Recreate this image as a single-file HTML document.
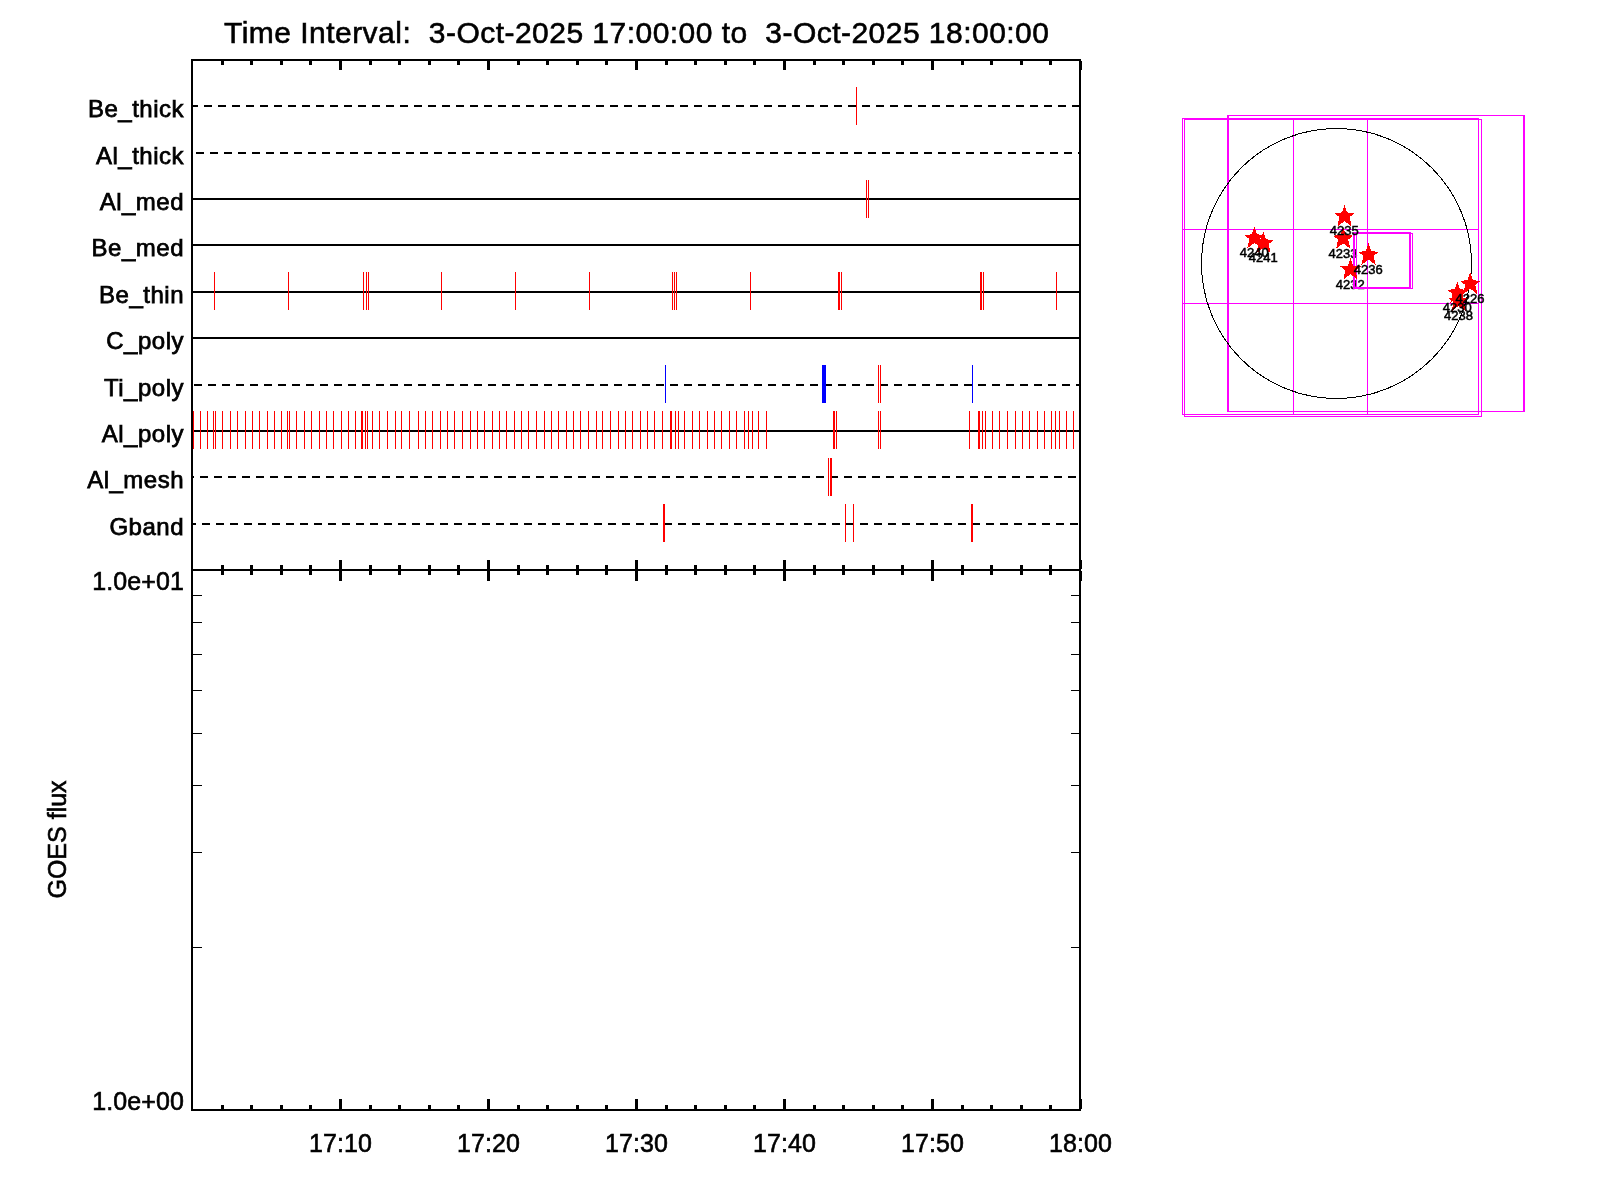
<!DOCTYPE html>
<html><head><meta charset="utf-8"><style>html,body{margin:0;padding:0;background:#fff;}svg{display:block;will-change:transform}</style></head>
<body><svg width="1600" height="1200" viewBox="0 0 1600 1200">
<rect width="1600" height="1200" fill="#fff"/>
<g shape-rendering="crispEdges">
<rect x="191" y="59" width="890" height="2" fill="#000"/>
<rect x="191" y="569" width="890" height="2" fill="#000"/>
<rect x="191" y="1109" width="890" height="2" fill="#000"/>
<rect x="191" y="59" width="2" height="1052" fill="#000"/>
<rect x="1079" y="59" width="2" height="1052" fill="#000"/>
<rect x="221" y="61" width="3" height="4" fill="#000"/>
<rect x="221" y="565" width="3" height="4" fill="#000"/>
<rect x="221" y="571" width="3" height="4" fill="#000"/>
<rect x="221" y="1105" width="3" height="4" fill="#000"/>
<rect x="250" y="61" width="3" height="4" fill="#000"/>
<rect x="250" y="565" width="3" height="4" fill="#000"/>
<rect x="250" y="571" width="3" height="4" fill="#000"/>
<rect x="250" y="1105" width="3" height="4" fill="#000"/>
<rect x="280" y="61" width="3" height="4" fill="#000"/>
<rect x="280" y="565" width="3" height="4" fill="#000"/>
<rect x="280" y="571" width="3" height="4" fill="#000"/>
<rect x="280" y="1105" width="3" height="4" fill="#000"/>
<rect x="309" y="61" width="3" height="4" fill="#000"/>
<rect x="309" y="565" width="3" height="4" fill="#000"/>
<rect x="309" y="571" width="3" height="4" fill="#000"/>
<rect x="309" y="1105" width="3" height="4" fill="#000"/>
<rect x="339" y="61" width="3" height="9" fill="#000"/>
<rect x="339" y="560" width="3" height="9" fill="#000"/>
<rect x="339" y="571" width="3" height="10" fill="#000"/>
<rect x="339" y="1099" width="3" height="10" fill="#000"/>
<rect x="369" y="61" width="3" height="4" fill="#000"/>
<rect x="369" y="565" width="3" height="4" fill="#000"/>
<rect x="369" y="571" width="3" height="4" fill="#000"/>
<rect x="369" y="1105" width="3" height="4" fill="#000"/>
<rect x="398" y="61" width="3" height="4" fill="#000"/>
<rect x="398" y="565" width="3" height="4" fill="#000"/>
<rect x="398" y="571" width="3" height="4" fill="#000"/>
<rect x="398" y="1105" width="3" height="4" fill="#000"/>
<rect x="428" y="61" width="3" height="4" fill="#000"/>
<rect x="428" y="565" width="3" height="4" fill="#000"/>
<rect x="428" y="571" width="3" height="4" fill="#000"/>
<rect x="428" y="1105" width="3" height="4" fill="#000"/>
<rect x="457" y="61" width="3" height="4" fill="#000"/>
<rect x="457" y="565" width="3" height="4" fill="#000"/>
<rect x="457" y="571" width="3" height="4" fill="#000"/>
<rect x="457" y="1105" width="3" height="4" fill="#000"/>
<rect x="487" y="61" width="3" height="9" fill="#000"/>
<rect x="487" y="560" width="3" height="9" fill="#000"/>
<rect x="487" y="571" width="3" height="10" fill="#000"/>
<rect x="487" y="1099" width="3" height="10" fill="#000"/>
<rect x="517" y="61" width="3" height="4" fill="#000"/>
<rect x="517" y="565" width="3" height="4" fill="#000"/>
<rect x="517" y="571" width="3" height="4" fill="#000"/>
<rect x="517" y="1105" width="3" height="4" fill="#000"/>
<rect x="546" y="61" width="3" height="4" fill="#000"/>
<rect x="546" y="565" width="3" height="4" fill="#000"/>
<rect x="546" y="571" width="3" height="4" fill="#000"/>
<rect x="546" y="1105" width="3" height="4" fill="#000"/>
<rect x="576" y="61" width="3" height="4" fill="#000"/>
<rect x="576" y="565" width="3" height="4" fill="#000"/>
<rect x="576" y="571" width="3" height="4" fill="#000"/>
<rect x="576" y="1105" width="3" height="4" fill="#000"/>
<rect x="605" y="61" width="3" height="4" fill="#000"/>
<rect x="605" y="565" width="3" height="4" fill="#000"/>
<rect x="605" y="571" width="3" height="4" fill="#000"/>
<rect x="605" y="1105" width="3" height="4" fill="#000"/>
<rect x="635" y="61" width="3" height="9" fill="#000"/>
<rect x="635" y="560" width="3" height="9" fill="#000"/>
<rect x="635" y="571" width="3" height="10" fill="#000"/>
<rect x="635" y="1099" width="3" height="10" fill="#000"/>
<rect x="665" y="61" width="3" height="4" fill="#000"/>
<rect x="665" y="565" width="3" height="4" fill="#000"/>
<rect x="665" y="571" width="3" height="4" fill="#000"/>
<rect x="665" y="1105" width="3" height="4" fill="#000"/>
<rect x="694" y="61" width="3" height="4" fill="#000"/>
<rect x="694" y="565" width="3" height="4" fill="#000"/>
<rect x="694" y="571" width="3" height="4" fill="#000"/>
<rect x="694" y="1105" width="3" height="4" fill="#000"/>
<rect x="724" y="61" width="3" height="4" fill="#000"/>
<rect x="724" y="565" width="3" height="4" fill="#000"/>
<rect x="724" y="571" width="3" height="4" fill="#000"/>
<rect x="724" y="1105" width="3" height="4" fill="#000"/>
<rect x="753" y="61" width="3" height="4" fill="#000"/>
<rect x="753" y="565" width="3" height="4" fill="#000"/>
<rect x="753" y="571" width="3" height="4" fill="#000"/>
<rect x="753" y="1105" width="3" height="4" fill="#000"/>
<rect x="783" y="61" width="3" height="9" fill="#000"/>
<rect x="783" y="560" width="3" height="9" fill="#000"/>
<rect x="783" y="571" width="3" height="10" fill="#000"/>
<rect x="783" y="1099" width="3" height="10" fill="#000"/>
<rect x="813" y="61" width="3" height="4" fill="#000"/>
<rect x="813" y="565" width="3" height="4" fill="#000"/>
<rect x="813" y="571" width="3" height="4" fill="#000"/>
<rect x="813" y="1105" width="3" height="4" fill="#000"/>
<rect x="842" y="61" width="3" height="4" fill="#000"/>
<rect x="842" y="565" width="3" height="4" fill="#000"/>
<rect x="842" y="571" width="3" height="4" fill="#000"/>
<rect x="842" y="1105" width="3" height="4" fill="#000"/>
<rect x="872" y="61" width="3" height="4" fill="#000"/>
<rect x="872" y="565" width="3" height="4" fill="#000"/>
<rect x="872" y="571" width="3" height="4" fill="#000"/>
<rect x="872" y="1105" width="3" height="4" fill="#000"/>
<rect x="901" y="61" width="3" height="4" fill="#000"/>
<rect x="901" y="565" width="3" height="4" fill="#000"/>
<rect x="901" y="571" width="3" height="4" fill="#000"/>
<rect x="901" y="1105" width="3" height="4" fill="#000"/>
<rect x="931" y="61" width="3" height="9" fill="#000"/>
<rect x="931" y="560" width="3" height="9" fill="#000"/>
<rect x="931" y="571" width="3" height="10" fill="#000"/>
<rect x="931" y="1099" width="3" height="10" fill="#000"/>
<rect x="961" y="61" width="3" height="4" fill="#000"/>
<rect x="961" y="565" width="3" height="4" fill="#000"/>
<rect x="961" y="571" width="3" height="4" fill="#000"/>
<rect x="961" y="1105" width="3" height="4" fill="#000"/>
<rect x="990" y="61" width="3" height="4" fill="#000"/>
<rect x="990" y="565" width="3" height="4" fill="#000"/>
<rect x="990" y="571" width="3" height="4" fill="#000"/>
<rect x="990" y="1105" width="3" height="4" fill="#000"/>
<rect x="1020" y="61" width="3" height="4" fill="#000"/>
<rect x="1020" y="565" width="3" height="4" fill="#000"/>
<rect x="1020" y="571" width="3" height="4" fill="#000"/>
<rect x="1020" y="1105" width="3" height="4" fill="#000"/>
<rect x="1049" y="61" width="3" height="4" fill="#000"/>
<rect x="1049" y="565" width="3" height="4" fill="#000"/>
<rect x="1049" y="571" width="3" height="4" fill="#000"/>
<rect x="1049" y="1105" width="3" height="4" fill="#000"/>
<rect x="1079" y="61" width="3" height="9" fill="#000"/>
<rect x="1079" y="560" width="3" height="9" fill="#000"/>
<rect x="1079" y="571" width="3" height="10" fill="#000"/>
<rect x="1079" y="1099" width="3" height="10" fill="#000"/>
<rect x="193" y="947" width="9" height="1" fill="#000"/>
<rect x="1071" y="947" width="8" height="1" fill="#000"/>
<rect x="193" y="852" width="9" height="1" fill="#000"/>
<rect x="1071" y="852" width="8" height="1" fill="#000"/>
<rect x="193" y="785" width="9" height="1" fill="#000"/>
<rect x="1071" y="785" width="8" height="1" fill="#000"/>
<rect x="193" y="733" width="9" height="1" fill="#000"/>
<rect x="1071" y="733" width="8" height="1" fill="#000"/>
<rect x="193" y="690" width="9" height="1" fill="#000"/>
<rect x="1071" y="690" width="8" height="1" fill="#000"/>
<rect x="193" y="654" width="9" height="1" fill="#000"/>
<rect x="1071" y="654" width="8" height="1" fill="#000"/>
<rect x="193" y="622" width="9" height="1" fill="#000"/>
<rect x="1071" y="622" width="8" height="1" fill="#000"/>
<rect x="193" y="595" width="9" height="1" fill="#000"/>
<rect x="1071" y="595" width="8" height="1" fill="#000"/>
<rect x="193" y="105" width="5" height="2" fill="#000"/>
<rect x="204" y="105" width="8" height="2" fill="#000"/>
<rect x="218" y="105" width="8" height="2" fill="#000"/>
<rect x="232" y="105" width="8" height="2" fill="#000"/>
<rect x="246" y="105" width="8" height="2" fill="#000"/>
<rect x="260" y="105" width="8" height="2" fill="#000"/>
<rect x="274" y="105" width="8" height="2" fill="#000"/>
<rect x="288" y="105" width="8" height="2" fill="#000"/>
<rect x="302" y="105" width="8" height="2" fill="#000"/>
<rect x="316" y="105" width="8" height="2" fill="#000"/>
<rect x="330" y="105" width="8" height="2" fill="#000"/>
<rect x="344" y="105" width="8" height="2" fill="#000"/>
<rect x="358" y="105" width="8" height="2" fill="#000"/>
<rect x="372" y="105" width="8" height="2" fill="#000"/>
<rect x="386" y="105" width="8" height="2" fill="#000"/>
<rect x="400" y="105" width="8" height="2" fill="#000"/>
<rect x="414" y="105" width="8" height="2" fill="#000"/>
<rect x="428" y="105" width="8" height="2" fill="#000"/>
<rect x="442" y="105" width="8" height="2" fill="#000"/>
<rect x="456" y="105" width="8" height="2" fill="#000"/>
<rect x="470" y="105" width="8" height="2" fill="#000"/>
<rect x="484" y="105" width="8" height="2" fill="#000"/>
<rect x="498" y="105" width="8" height="2" fill="#000"/>
<rect x="512" y="105" width="8" height="2" fill="#000"/>
<rect x="526" y="105" width="8" height="2" fill="#000"/>
<rect x="540" y="105" width="8" height="2" fill="#000"/>
<rect x="554" y="105" width="8" height="2" fill="#000"/>
<rect x="568" y="105" width="8" height="2" fill="#000"/>
<rect x="582" y="105" width="8" height="2" fill="#000"/>
<rect x="596" y="105" width="8" height="2" fill="#000"/>
<rect x="610" y="105" width="8" height="2" fill="#000"/>
<rect x="624" y="105" width="8" height="2" fill="#000"/>
<rect x="638" y="105" width="8" height="2" fill="#000"/>
<rect x="652" y="105" width="8" height="2" fill="#000"/>
<rect x="666" y="105" width="8" height="2" fill="#000"/>
<rect x="680" y="105" width="8" height="2" fill="#000"/>
<rect x="694" y="105" width="8" height="2" fill="#000"/>
<rect x="708" y="105" width="8" height="2" fill="#000"/>
<rect x="722" y="105" width="8" height="2" fill="#000"/>
<rect x="736" y="105" width="8" height="2" fill="#000"/>
<rect x="750" y="105" width="8" height="2" fill="#000"/>
<rect x="764" y="105" width="8" height="2" fill="#000"/>
<rect x="778" y="105" width="8" height="2" fill="#000"/>
<rect x="792" y="105" width="8" height="2" fill="#000"/>
<rect x="806" y="105" width="8" height="2" fill="#000"/>
<rect x="820" y="105" width="8" height="2" fill="#000"/>
<rect x="834" y="105" width="8" height="2" fill="#000"/>
<rect x="848" y="105" width="8" height="2" fill="#000"/>
<rect x="862" y="105" width="8" height="2" fill="#000"/>
<rect x="876" y="105" width="8" height="2" fill="#000"/>
<rect x="890" y="105" width="8" height="2" fill="#000"/>
<rect x="904" y="105" width="8" height="2" fill="#000"/>
<rect x="918" y="105" width="8" height="2" fill="#000"/>
<rect x="932" y="105" width="8" height="2" fill="#000"/>
<rect x="946" y="105" width="8" height="2" fill="#000"/>
<rect x="960" y="105" width="8" height="2" fill="#000"/>
<rect x="974" y="105" width="8" height="2" fill="#000"/>
<rect x="988" y="105" width="8" height="2" fill="#000"/>
<rect x="1002" y="105" width="8" height="2" fill="#000"/>
<rect x="1016" y="105" width="8" height="2" fill="#000"/>
<rect x="1030" y="105" width="8" height="2" fill="#000"/>
<rect x="1044" y="105" width="8" height="2" fill="#000"/>
<rect x="1058" y="105" width="8" height="2" fill="#000"/>
<rect x="1072" y="105" width="7" height="2" fill="#000"/>
<text x="184" y="117" text-anchor="end" font-family="Liberation Sans, sans-serif" font-size="24" stroke="#000" stroke-width="0.75" letter-spacing="0.5">Be_thick</text>
<rect x="196" y="152" width="8" height="2" fill="#000"/>
<rect x="210" y="152" width="8" height="2" fill="#000"/>
<rect x="224" y="152" width="8" height="2" fill="#000"/>
<rect x="238" y="152" width="8" height="2" fill="#000"/>
<rect x="252" y="152" width="8" height="2" fill="#000"/>
<rect x="266" y="152" width="8" height="2" fill="#000"/>
<rect x="280" y="152" width="8" height="2" fill="#000"/>
<rect x="294" y="152" width="8" height="2" fill="#000"/>
<rect x="308" y="152" width="8" height="2" fill="#000"/>
<rect x="322" y="152" width="8" height="2" fill="#000"/>
<rect x="336" y="152" width="8" height="2" fill="#000"/>
<rect x="350" y="152" width="8" height="2" fill="#000"/>
<rect x="364" y="152" width="8" height="2" fill="#000"/>
<rect x="378" y="152" width="8" height="2" fill="#000"/>
<rect x="392" y="152" width="8" height="2" fill="#000"/>
<rect x="406" y="152" width="8" height="2" fill="#000"/>
<rect x="420" y="152" width="8" height="2" fill="#000"/>
<rect x="434" y="152" width="8" height="2" fill="#000"/>
<rect x="448" y="152" width="8" height="2" fill="#000"/>
<rect x="462" y="152" width="8" height="2" fill="#000"/>
<rect x="476" y="152" width="8" height="2" fill="#000"/>
<rect x="490" y="152" width="8" height="2" fill="#000"/>
<rect x="504" y="152" width="8" height="2" fill="#000"/>
<rect x="518" y="152" width="8" height="2" fill="#000"/>
<rect x="532" y="152" width="8" height="2" fill="#000"/>
<rect x="546" y="152" width="8" height="2" fill="#000"/>
<rect x="560" y="152" width="8" height="2" fill="#000"/>
<rect x="574" y="152" width="8" height="2" fill="#000"/>
<rect x="588" y="152" width="8" height="2" fill="#000"/>
<rect x="602" y="152" width="8" height="2" fill="#000"/>
<rect x="616" y="152" width="8" height="2" fill="#000"/>
<rect x="630" y="152" width="8" height="2" fill="#000"/>
<rect x="644" y="152" width="8" height="2" fill="#000"/>
<rect x="658" y="152" width="8" height="2" fill="#000"/>
<rect x="672" y="152" width="8" height="2" fill="#000"/>
<rect x="686" y="152" width="8" height="2" fill="#000"/>
<rect x="700" y="152" width="8" height="2" fill="#000"/>
<rect x="714" y="152" width="8" height="2" fill="#000"/>
<rect x="728" y="152" width="8" height="2" fill="#000"/>
<rect x="742" y="152" width="8" height="2" fill="#000"/>
<rect x="756" y="152" width="8" height="2" fill="#000"/>
<rect x="770" y="152" width="8" height="2" fill="#000"/>
<rect x="784" y="152" width="8" height="2" fill="#000"/>
<rect x="798" y="152" width="8" height="2" fill="#000"/>
<rect x="812" y="152" width="8" height="2" fill="#000"/>
<rect x="826" y="152" width="8" height="2" fill="#000"/>
<rect x="840" y="152" width="8" height="2" fill="#000"/>
<rect x="854" y="152" width="8" height="2" fill="#000"/>
<rect x="868" y="152" width="8" height="2" fill="#000"/>
<rect x="882" y="152" width="8" height="2" fill="#000"/>
<rect x="896" y="152" width="8" height="2" fill="#000"/>
<rect x="910" y="152" width="8" height="2" fill="#000"/>
<rect x="924" y="152" width="8" height="2" fill="#000"/>
<rect x="938" y="152" width="8" height="2" fill="#000"/>
<rect x="952" y="152" width="8" height="2" fill="#000"/>
<rect x="966" y="152" width="8" height="2" fill="#000"/>
<rect x="980" y="152" width="8" height="2" fill="#000"/>
<rect x="994" y="152" width="8" height="2" fill="#000"/>
<rect x="1008" y="152" width="8" height="2" fill="#000"/>
<rect x="1022" y="152" width="8" height="2" fill="#000"/>
<rect x="1036" y="152" width="8" height="2" fill="#000"/>
<rect x="1050" y="152" width="8" height="2" fill="#000"/>
<rect x="1064" y="152" width="8" height="2" fill="#000"/>
<rect x="1078" y="152" width="1" height="2" fill="#000"/>
<text x="184" y="164" text-anchor="end" font-family="Liberation Sans, sans-serif" font-size="24" stroke="#000" stroke-width="0.75" letter-spacing="0.5">Al_thick</text>
<rect x="193" y="198" width="886" height="2" fill="#000"/>
<text x="184" y="210" text-anchor="end" font-family="Liberation Sans, sans-serif" font-size="24" stroke="#000" stroke-width="0.75" letter-spacing="0.5">Al_med</text>
<rect x="193" y="244" width="886" height="2" fill="#000"/>
<text x="184" y="256" text-anchor="end" font-family="Liberation Sans, sans-serif" font-size="24" stroke="#000" stroke-width="0.75" letter-spacing="0.5">Be_med</text>
<rect x="193" y="291" width="886" height="2" fill="#000"/>
<text x="184" y="303" text-anchor="end" font-family="Liberation Sans, sans-serif" font-size="24" stroke="#000" stroke-width="0.75" letter-spacing="0.5">Be_thin</text>
<rect x="193" y="337" width="886" height="2" fill="#000"/>
<text x="184" y="349" text-anchor="end" font-family="Liberation Sans, sans-serif" font-size="24" stroke="#000" stroke-width="0.75" letter-spacing="0.5">C_poly</text>
<rect x="194" y="384" width="8" height="2" fill="#000"/>
<rect x="208" y="384" width="8" height="2" fill="#000"/>
<rect x="222" y="384" width="8" height="2" fill="#000"/>
<rect x="236" y="384" width="8" height="2" fill="#000"/>
<rect x="250" y="384" width="8" height="2" fill="#000"/>
<rect x="264" y="384" width="8" height="2" fill="#000"/>
<rect x="278" y="384" width="8" height="2" fill="#000"/>
<rect x="292" y="384" width="8" height="2" fill="#000"/>
<rect x="306" y="384" width="8" height="2" fill="#000"/>
<rect x="320" y="384" width="8" height="2" fill="#000"/>
<rect x="334" y="384" width="8" height="2" fill="#000"/>
<rect x="348" y="384" width="8" height="2" fill="#000"/>
<rect x="362" y="384" width="8" height="2" fill="#000"/>
<rect x="376" y="384" width="8" height="2" fill="#000"/>
<rect x="390" y="384" width="8" height="2" fill="#000"/>
<rect x="404" y="384" width="8" height="2" fill="#000"/>
<rect x="418" y="384" width="8" height="2" fill="#000"/>
<rect x="432" y="384" width="8" height="2" fill="#000"/>
<rect x="446" y="384" width="8" height="2" fill="#000"/>
<rect x="460" y="384" width="8" height="2" fill="#000"/>
<rect x="474" y="384" width="8" height="2" fill="#000"/>
<rect x="488" y="384" width="8" height="2" fill="#000"/>
<rect x="502" y="384" width="8" height="2" fill="#000"/>
<rect x="516" y="384" width="8" height="2" fill="#000"/>
<rect x="530" y="384" width="8" height="2" fill="#000"/>
<rect x="544" y="384" width="8" height="2" fill="#000"/>
<rect x="558" y="384" width="8" height="2" fill="#000"/>
<rect x="572" y="384" width="8" height="2" fill="#000"/>
<rect x="586" y="384" width="8" height="2" fill="#000"/>
<rect x="600" y="384" width="8" height="2" fill="#000"/>
<rect x="614" y="384" width="8" height="2" fill="#000"/>
<rect x="628" y="384" width="8" height="2" fill="#000"/>
<rect x="642" y="384" width="8" height="2" fill="#000"/>
<rect x="656" y="384" width="8" height="2" fill="#000"/>
<rect x="670" y="384" width="8" height="2" fill="#000"/>
<rect x="684" y="384" width="8" height="2" fill="#000"/>
<rect x="698" y="384" width="8" height="2" fill="#000"/>
<rect x="712" y="384" width="8" height="2" fill="#000"/>
<rect x="726" y="384" width="8" height="2" fill="#000"/>
<rect x="740" y="384" width="8" height="2" fill="#000"/>
<rect x="754" y="384" width="8" height="2" fill="#000"/>
<rect x="768" y="384" width="8" height="2" fill="#000"/>
<rect x="782" y="384" width="8" height="2" fill="#000"/>
<rect x="796" y="384" width="8" height="2" fill="#000"/>
<rect x="810" y="384" width="8" height="2" fill="#000"/>
<rect x="824" y="384" width="8" height="2" fill="#000"/>
<rect x="838" y="384" width="8" height="2" fill="#000"/>
<rect x="852" y="384" width="8" height="2" fill="#000"/>
<rect x="866" y="384" width="8" height="2" fill="#000"/>
<rect x="880" y="384" width="8" height="2" fill="#000"/>
<rect x="894" y="384" width="8" height="2" fill="#000"/>
<rect x="908" y="384" width="8" height="2" fill="#000"/>
<rect x="922" y="384" width="8" height="2" fill="#000"/>
<rect x="936" y="384" width="8" height="2" fill="#000"/>
<rect x="950" y="384" width="8" height="2" fill="#000"/>
<rect x="964" y="384" width="8" height="2" fill="#000"/>
<rect x="978" y="384" width="8" height="2" fill="#000"/>
<rect x="992" y="384" width="8" height="2" fill="#000"/>
<rect x="1006" y="384" width="8" height="2" fill="#000"/>
<rect x="1020" y="384" width="8" height="2" fill="#000"/>
<rect x="1034" y="384" width="8" height="2" fill="#000"/>
<rect x="1048" y="384" width="8" height="2" fill="#000"/>
<rect x="1062" y="384" width="8" height="2" fill="#000"/>
<rect x="1076" y="384" width="3" height="2" fill="#000"/>
<text x="184" y="396" text-anchor="end" font-family="Liberation Sans, sans-serif" font-size="24" stroke="#000" stroke-width="0.75" letter-spacing="0.5">Ti_poly</text>
<rect x="193" y="430" width="886" height="2" fill="#000"/>
<text x="184" y="442" text-anchor="end" font-family="Liberation Sans, sans-serif" font-size="24" stroke="#000" stroke-width="0.75" letter-spacing="0.5">Al_poly</text>
<rect x="193" y="476" width="1" height="2" fill="#000"/>
<rect x="200" y="476" width="8" height="2" fill="#000"/>
<rect x="214" y="476" width="8" height="2" fill="#000"/>
<rect x="228" y="476" width="8" height="2" fill="#000"/>
<rect x="242" y="476" width="8" height="2" fill="#000"/>
<rect x="256" y="476" width="8" height="2" fill="#000"/>
<rect x="270" y="476" width="8" height="2" fill="#000"/>
<rect x="284" y="476" width="8" height="2" fill="#000"/>
<rect x="298" y="476" width="8" height="2" fill="#000"/>
<rect x="312" y="476" width="8" height="2" fill="#000"/>
<rect x="326" y="476" width="8" height="2" fill="#000"/>
<rect x="340" y="476" width="8" height="2" fill="#000"/>
<rect x="354" y="476" width="8" height="2" fill="#000"/>
<rect x="368" y="476" width="8" height="2" fill="#000"/>
<rect x="382" y="476" width="8" height="2" fill="#000"/>
<rect x="396" y="476" width="8" height="2" fill="#000"/>
<rect x="410" y="476" width="8" height="2" fill="#000"/>
<rect x="424" y="476" width="8" height="2" fill="#000"/>
<rect x="438" y="476" width="8" height="2" fill="#000"/>
<rect x="452" y="476" width="8" height="2" fill="#000"/>
<rect x="466" y="476" width="8" height="2" fill="#000"/>
<rect x="480" y="476" width="8" height="2" fill="#000"/>
<rect x="494" y="476" width="8" height="2" fill="#000"/>
<rect x="508" y="476" width="8" height="2" fill="#000"/>
<rect x="522" y="476" width="8" height="2" fill="#000"/>
<rect x="536" y="476" width="8" height="2" fill="#000"/>
<rect x="550" y="476" width="8" height="2" fill="#000"/>
<rect x="564" y="476" width="8" height="2" fill="#000"/>
<rect x="578" y="476" width="8" height="2" fill="#000"/>
<rect x="592" y="476" width="8" height="2" fill="#000"/>
<rect x="606" y="476" width="8" height="2" fill="#000"/>
<rect x="620" y="476" width="8" height="2" fill="#000"/>
<rect x="634" y="476" width="8" height="2" fill="#000"/>
<rect x="648" y="476" width="8" height="2" fill="#000"/>
<rect x="662" y="476" width="8" height="2" fill="#000"/>
<rect x="676" y="476" width="8" height="2" fill="#000"/>
<rect x="690" y="476" width="8" height="2" fill="#000"/>
<rect x="704" y="476" width="8" height="2" fill="#000"/>
<rect x="718" y="476" width="8" height="2" fill="#000"/>
<rect x="732" y="476" width="8" height="2" fill="#000"/>
<rect x="746" y="476" width="8" height="2" fill="#000"/>
<rect x="760" y="476" width="8" height="2" fill="#000"/>
<rect x="774" y="476" width="8" height="2" fill="#000"/>
<rect x="788" y="476" width="8" height="2" fill="#000"/>
<rect x="802" y="476" width="8" height="2" fill="#000"/>
<rect x="816" y="476" width="8" height="2" fill="#000"/>
<rect x="830" y="476" width="8" height="2" fill="#000"/>
<rect x="844" y="476" width="8" height="2" fill="#000"/>
<rect x="858" y="476" width="8" height="2" fill="#000"/>
<rect x="872" y="476" width="8" height="2" fill="#000"/>
<rect x="886" y="476" width="8" height="2" fill="#000"/>
<rect x="900" y="476" width="8" height="2" fill="#000"/>
<rect x="914" y="476" width="8" height="2" fill="#000"/>
<rect x="928" y="476" width="8" height="2" fill="#000"/>
<rect x="942" y="476" width="8" height="2" fill="#000"/>
<rect x="956" y="476" width="8" height="2" fill="#000"/>
<rect x="970" y="476" width="8" height="2" fill="#000"/>
<rect x="984" y="476" width="8" height="2" fill="#000"/>
<rect x="998" y="476" width="8" height="2" fill="#000"/>
<rect x="1012" y="476" width="8" height="2" fill="#000"/>
<rect x="1026" y="476" width="8" height="2" fill="#000"/>
<rect x="1040" y="476" width="8" height="2" fill="#000"/>
<rect x="1054" y="476" width="8" height="2" fill="#000"/>
<rect x="1068" y="476" width="8" height="2" fill="#000"/>
<text x="184" y="488" text-anchor="end" font-family="Liberation Sans, sans-serif" font-size="24" stroke="#000" stroke-width="0.75" letter-spacing="0.5">Al_mesh</text>
<rect x="193" y="523" width="3" height="2" fill="#000"/>
<rect x="202" y="523" width="8" height="2" fill="#000"/>
<rect x="216" y="523" width="8" height="2" fill="#000"/>
<rect x="230" y="523" width="8" height="2" fill="#000"/>
<rect x="244" y="523" width="8" height="2" fill="#000"/>
<rect x="258" y="523" width="8" height="2" fill="#000"/>
<rect x="272" y="523" width="8" height="2" fill="#000"/>
<rect x="286" y="523" width="8" height="2" fill="#000"/>
<rect x="300" y="523" width="8" height="2" fill="#000"/>
<rect x="314" y="523" width="8" height="2" fill="#000"/>
<rect x="328" y="523" width="8" height="2" fill="#000"/>
<rect x="342" y="523" width="8" height="2" fill="#000"/>
<rect x="356" y="523" width="8" height="2" fill="#000"/>
<rect x="370" y="523" width="8" height="2" fill="#000"/>
<rect x="384" y="523" width="8" height="2" fill="#000"/>
<rect x="398" y="523" width="8" height="2" fill="#000"/>
<rect x="412" y="523" width="8" height="2" fill="#000"/>
<rect x="426" y="523" width="8" height="2" fill="#000"/>
<rect x="440" y="523" width="8" height="2" fill="#000"/>
<rect x="454" y="523" width="8" height="2" fill="#000"/>
<rect x="468" y="523" width="8" height="2" fill="#000"/>
<rect x="482" y="523" width="8" height="2" fill="#000"/>
<rect x="496" y="523" width="8" height="2" fill="#000"/>
<rect x="510" y="523" width="8" height="2" fill="#000"/>
<rect x="524" y="523" width="8" height="2" fill="#000"/>
<rect x="538" y="523" width="8" height="2" fill="#000"/>
<rect x="552" y="523" width="8" height="2" fill="#000"/>
<rect x="566" y="523" width="8" height="2" fill="#000"/>
<rect x="580" y="523" width="8" height="2" fill="#000"/>
<rect x="594" y="523" width="8" height="2" fill="#000"/>
<rect x="608" y="523" width="8" height="2" fill="#000"/>
<rect x="622" y="523" width="8" height="2" fill="#000"/>
<rect x="636" y="523" width="8" height="2" fill="#000"/>
<rect x="650" y="523" width="8" height="2" fill="#000"/>
<rect x="664" y="523" width="8" height="2" fill="#000"/>
<rect x="678" y="523" width="8" height="2" fill="#000"/>
<rect x="692" y="523" width="8" height="2" fill="#000"/>
<rect x="706" y="523" width="8" height="2" fill="#000"/>
<rect x="720" y="523" width="8" height="2" fill="#000"/>
<rect x="734" y="523" width="8" height="2" fill="#000"/>
<rect x="748" y="523" width="8" height="2" fill="#000"/>
<rect x="762" y="523" width="8" height="2" fill="#000"/>
<rect x="776" y="523" width="8" height="2" fill="#000"/>
<rect x="790" y="523" width="8" height="2" fill="#000"/>
<rect x="804" y="523" width="8" height="2" fill="#000"/>
<rect x="818" y="523" width="8" height="2" fill="#000"/>
<rect x="832" y="523" width="8" height="2" fill="#000"/>
<rect x="846" y="523" width="8" height="2" fill="#000"/>
<rect x="860" y="523" width="8" height="2" fill="#000"/>
<rect x="874" y="523" width="8" height="2" fill="#000"/>
<rect x="888" y="523" width="8" height="2" fill="#000"/>
<rect x="902" y="523" width="8" height="2" fill="#000"/>
<rect x="916" y="523" width="8" height="2" fill="#000"/>
<rect x="930" y="523" width="8" height="2" fill="#000"/>
<rect x="944" y="523" width="8" height="2" fill="#000"/>
<rect x="958" y="523" width="8" height="2" fill="#000"/>
<rect x="972" y="523" width="8" height="2" fill="#000"/>
<rect x="986" y="523" width="8" height="2" fill="#000"/>
<rect x="1000" y="523" width="8" height="2" fill="#000"/>
<rect x="1014" y="523" width="8" height="2" fill="#000"/>
<rect x="1028" y="523" width="8" height="2" fill="#000"/>
<rect x="1042" y="523" width="8" height="2" fill="#000"/>
<rect x="1056" y="523" width="8" height="2" fill="#000"/>
<rect x="1070" y="523" width="8" height="2" fill="#000"/>
<text x="184" y="535" text-anchor="end" font-family="Liberation Sans, sans-serif" font-size="24" stroke="#000" stroke-width="0.75" letter-spacing="0.5">Gband</text>
<rect x="856" y="87" width="1" height="38" fill="#f00"/>
<rect x="866" y="180" width="1" height="38" fill="#f00"/>
<rect x="868" y="180" width="1" height="38" fill="#f00"/>
<rect x="214" y="272" width="1" height="38" fill="#f00"/>
<rect x="288" y="272" width="1" height="38" fill="#f00"/>
<rect x="363" y="272" width="1" height="38" fill="#f00"/>
<rect x="366" y="272" width="1" height="38" fill="#f00"/>
<rect x="368" y="272" width="1" height="38" fill="#f00"/>
<rect x="441" y="272" width="1" height="38" fill="#f00"/>
<rect x="515" y="272" width="1" height="38" fill="#f00"/>
<rect x="589" y="272" width="1" height="38" fill="#f00"/>
<rect x="672" y="272" width="1" height="38" fill="#f00"/>
<rect x="674" y="272" width="1" height="38" fill="#f00"/>
<rect x="676" y="272" width="1" height="38" fill="#f00"/>
<rect x="750" y="272" width="1" height="38" fill="#f00"/>
<rect x="838" y="272" width="1" height="38" fill="#f00"/>
<rect x="839" y="272" width="1" height="38" fill="#f00"/>
<rect x="841" y="272" width="1" height="38" fill="#f00"/>
<rect x="980" y="272" width="1" height="38" fill="#f00"/>
<rect x="981" y="272" width="1" height="38" fill="#f00"/>
<rect x="983" y="272" width="1" height="38" fill="#f00"/>
<rect x="1056" y="272" width="1" height="38" fill="#f00"/>
<rect x="665" y="365" width="1" height="38" fill="#00f"/>
<rect x="822" y="365" width="4" height="38" fill="#00f"/>
<rect x="972" y="365" width="1" height="38" fill="#00f"/>
<rect x="878" y="365" width="1" height="38" fill="#f00"/>
<rect x="880" y="365" width="1" height="38" fill="#f00"/>
<rect x="193" y="411" width="1" height="38" fill="#f00"/>
<rect x="200" y="411" width="1" height="38" fill="#f00"/>
<rect x="207" y="411" width="1" height="38" fill="#f00"/>
<rect x="213" y="411" width="1" height="38" fill="#f00"/>
<rect x="215" y="411" width="1" height="38" fill="#f00"/>
<rect x="222" y="411" width="1" height="38" fill="#f00"/>
<rect x="230" y="411" width="1" height="38" fill="#f00"/>
<rect x="237" y="411" width="1" height="38" fill="#f00"/>
<rect x="245" y="411" width="1" height="38" fill="#f00"/>
<rect x="252" y="411" width="1" height="38" fill="#f00"/>
<rect x="259" y="411" width="1" height="38" fill="#f00"/>
<rect x="267" y="411" width="1" height="38" fill="#f00"/>
<rect x="274" y="411" width="1" height="38" fill="#f00"/>
<rect x="281" y="411" width="1" height="38" fill="#f00"/>
<rect x="287" y="411" width="1" height="38" fill="#f00"/>
<rect x="289" y="411" width="1" height="38" fill="#f00"/>
<rect x="296" y="411" width="1" height="38" fill="#f00"/>
<rect x="304" y="411" width="1" height="38" fill="#f00"/>
<rect x="311" y="411" width="1" height="38" fill="#f00"/>
<rect x="319" y="411" width="1" height="38" fill="#f00"/>
<rect x="326" y="411" width="1" height="38" fill="#f00"/>
<rect x="333" y="411" width="1" height="38" fill="#f00"/>
<rect x="341" y="411" width="1" height="38" fill="#f00"/>
<rect x="348" y="411" width="1" height="38" fill="#f00"/>
<rect x="355" y="411" width="1" height="38" fill="#f00"/>
<rect x="361" y="411" width="1" height="38" fill="#f00"/>
<rect x="362" y="411" width="1" height="38" fill="#f00"/>
<rect x="365" y="411" width="1" height="38" fill="#f00"/>
<rect x="367" y="411" width="1" height="38" fill="#f00"/>
<rect x="372" y="411" width="1" height="38" fill="#f00"/>
<rect x="379" y="411" width="1" height="38" fill="#f00"/>
<rect x="387" y="411" width="1" height="38" fill="#f00"/>
<rect x="395" y="411" width="1" height="38" fill="#f00"/>
<rect x="401" y="411" width="1" height="38" fill="#f00"/>
<rect x="409" y="411" width="1" height="38" fill="#f00"/>
<rect x="418" y="411" width="1" height="38" fill="#f00"/>
<rect x="425" y="411" width="1" height="38" fill="#f00"/>
<rect x="432" y="411" width="1" height="38" fill="#f00"/>
<rect x="440" y="411" width="1" height="38" fill="#f00"/>
<rect x="447" y="411" width="1" height="38" fill="#f00"/>
<rect x="454" y="411" width="1" height="38" fill="#f00"/>
<rect x="462" y="411" width="1" height="38" fill="#f00"/>
<rect x="470" y="411" width="1" height="38" fill="#f00"/>
<rect x="477" y="411" width="1" height="38" fill="#f00"/>
<rect x="484" y="411" width="1" height="38" fill="#f00"/>
<rect x="492" y="411" width="1" height="38" fill="#f00"/>
<rect x="499" y="411" width="1" height="38" fill="#f00"/>
<rect x="506" y="411" width="1" height="38" fill="#f00"/>
<rect x="514" y="411" width="1" height="38" fill="#f00"/>
<rect x="521" y="411" width="1" height="38" fill="#f00"/>
<rect x="528" y="411" width="1" height="38" fill="#f00"/>
<rect x="536" y="411" width="1" height="38" fill="#f00"/>
<rect x="544" y="411" width="1" height="38" fill="#f00"/>
<rect x="551" y="411" width="1" height="38" fill="#f00"/>
<rect x="558" y="411" width="1" height="38" fill="#f00"/>
<rect x="566" y="411" width="1" height="38" fill="#f00"/>
<rect x="573" y="411" width="1" height="38" fill="#f00"/>
<rect x="580" y="411" width="1" height="38" fill="#f00"/>
<rect x="588" y="411" width="1" height="38" fill="#f00"/>
<rect x="596" y="411" width="1" height="38" fill="#f00"/>
<rect x="602" y="411" width="1" height="38" fill="#f00"/>
<rect x="610" y="411" width="1" height="38" fill="#f00"/>
<rect x="618" y="411" width="1" height="38" fill="#f00"/>
<rect x="625" y="411" width="1" height="38" fill="#f00"/>
<rect x="632" y="411" width="1" height="38" fill="#f00"/>
<rect x="640" y="411" width="1" height="38" fill="#f00"/>
<rect x="647" y="411" width="1" height="38" fill="#f00"/>
<rect x="654" y="411" width="1" height="38" fill="#f00"/>
<rect x="662" y="411" width="1" height="38" fill="#f00"/>
<rect x="670" y="411" width="1" height="38" fill="#f00"/>
<rect x="671" y="411" width="1" height="38" fill="#f00"/>
<rect x="675" y="411" width="1" height="38" fill="#f00"/>
<rect x="678" y="411" width="1" height="38" fill="#f00"/>
<rect x="684" y="411" width="1" height="38" fill="#f00"/>
<rect x="692" y="411" width="1" height="38" fill="#f00"/>
<rect x="699" y="411" width="1" height="38" fill="#f00"/>
<rect x="707" y="411" width="1" height="38" fill="#f00"/>
<rect x="714" y="411" width="1" height="38" fill="#f00"/>
<rect x="721" y="411" width="1" height="38" fill="#f00"/>
<rect x="729" y="411" width="1" height="38" fill="#f00"/>
<rect x="736" y="411" width="1" height="38" fill="#f00"/>
<rect x="744" y="411" width="1" height="38" fill="#f00"/>
<rect x="748" y="411" width="1" height="38" fill="#f00"/>
<rect x="752" y="411" width="1" height="38" fill="#f00"/>
<rect x="758" y="411" width="1" height="38" fill="#f00"/>
<rect x="766" y="411" width="1" height="38" fill="#f00"/>
<rect x="833" y="411" width="1" height="38" fill="#f00"/>
<rect x="834" y="411" width="1" height="38" fill="#f00"/>
<rect x="836" y="411" width="1" height="38" fill="#f00"/>
<rect x="878" y="411" width="1" height="38" fill="#f00"/>
<rect x="880" y="411" width="1" height="38" fill="#f00"/>
<rect x="969" y="411" width="1" height="38" fill="#f00"/>
<rect x="978" y="411" width="1" height="38" fill="#f00"/>
<rect x="979" y="411" width="1" height="38" fill="#f00"/>
<rect x="982" y="411" width="1" height="38" fill="#f00"/>
<rect x="985" y="411" width="1" height="38" fill="#f00"/>
<rect x="992" y="411" width="1" height="38" fill="#f00"/>
<rect x="999" y="411" width="1" height="38" fill="#f00"/>
<rect x="1007" y="411" width="1" height="38" fill="#f00"/>
<rect x="1015" y="411" width="1" height="38" fill="#f00"/>
<rect x="1022" y="411" width="1" height="38" fill="#f00"/>
<rect x="1029" y="411" width="1" height="38" fill="#f00"/>
<rect x="1037" y="411" width="1" height="38" fill="#f00"/>
<rect x="1044" y="411" width="1" height="38" fill="#f00"/>
<rect x="1051" y="411" width="1" height="38" fill="#f00"/>
<rect x="1055" y="411" width="1" height="38" fill="#f00"/>
<rect x="1059" y="411" width="1" height="38" fill="#f00"/>
<rect x="1066" y="411" width="1" height="38" fill="#f00"/>
<rect x="1073" y="411" width="1" height="38" fill="#f00"/>
<rect x="828" y="458" width="1" height="38" fill="#f00"/>
<rect x="830" y="458" width="1" height="38" fill="#f00"/>
<rect x="831" y="458" width="1" height="38" fill="#f00"/>
<rect x="663" y="504" width="1" height="38" fill="#f00"/>
<rect x="664" y="504" width="1" height="38" fill="#f00"/>
<rect x="845" y="504" width="1" height="38" fill="#f00"/>
<rect x="853" y="504" width="1" height="38" fill="#f00"/>
<rect x="971" y="504" width="1" height="38" fill="#f00"/>
<rect x="972" y="504" width="1" height="38" fill="#f00"/>
<text x="224" y="43" font-family="Liberation Sans, sans-serif" font-size="30" stroke="#000" stroke-width="0.6" xml:space="preserve" letter-spacing="0.47">Time Interval:  3-Oct-2025 17:00:00 to  3-Oct-2025 18:00:00</text>
<text x="184" y="590" text-anchor="end" font-family="Liberation Sans, sans-serif" font-size="25" stroke="#000" stroke-width="0.6" letter-spacing="0.1">1.0e+01</text>
<text x="184" y="1110" text-anchor="end" font-family="Liberation Sans, sans-serif" font-size="25" stroke="#000" stroke-width="0.6" letter-spacing="0.1">1.0e+00</text>
<text x="340.5" y="1152" text-anchor="middle" font-family="Liberation Sans, sans-serif" font-size="25" stroke="#000" stroke-width="0.6" letter-spacing="0.1">17:10</text>
<text x="488.5" y="1152" text-anchor="middle" font-family="Liberation Sans, sans-serif" font-size="25" stroke="#000" stroke-width="0.6" letter-spacing="0.1">17:20</text>
<text x="636.5" y="1152" text-anchor="middle" font-family="Liberation Sans, sans-serif" font-size="25" stroke="#000" stroke-width="0.6" letter-spacing="0.1">17:30</text>
<text x="784.5" y="1152" text-anchor="middle" font-family="Liberation Sans, sans-serif" font-size="25" stroke="#000" stroke-width="0.6" letter-spacing="0.1">17:40</text>
<text x="932.5" y="1152" text-anchor="middle" font-family="Liberation Sans, sans-serif" font-size="25" stroke="#000" stroke-width="0.6" letter-spacing="0.1">17:50</text>
<text x="1080.5" y="1152" text-anchor="middle" font-family="Liberation Sans, sans-serif" font-size="25" stroke="#000" stroke-width="0.6" letter-spacing="0.1">18:00</text>
<text transform="translate(66,839.5) rotate(-90)" text-anchor="middle" font-family="Liberation Sans, sans-serif" font-size="25" stroke="#000" stroke-width="0.6" letter-spacing="0">GOES flux</text>
<g shape-rendering="crispEdges">
<rect x="1182" y="118" width="297" height="1" fill="#f0f"/>
<rect x="1182" y="414" width="297" height="1" fill="#f0f"/>
<rect x="1182" y="118" width="1" height="297" fill="#f0f"/>
<rect x="1478" y="118" width="1" height="297" fill="#f0f"/>
<rect x="1184" y="119" width="298" height="1" fill="#f0f"/>
<rect x="1184" y="416" width="298" height="1" fill="#f0f"/>
<rect x="1184" y="119" width="1" height="298" fill="#f0f"/>
<rect x="1481" y="119" width="1" height="298" fill="#f0f"/>
<rect x="1227" y="115" width="298" height="1" fill="#f0f"/>
<rect x="1227" y="411" width="298" height="1" fill="#f0f"/>
<rect x="1227" y="115" width="2" height="297" fill="#f0f"/>
<rect x="1523" y="115" width="2" height="297" fill="#f0f"/>
<rect x="1293" y="118" width="1" height="297" fill="#f0f"/>
<rect x="1367" y="118" width="1" height="297" fill="#f0f"/>
<rect x="1182" y="229" width="297" height="1" fill="#f0f"/>
<rect x="1182" y="303" width="297" height="1" fill="#f0f"/>
</g>
<circle cx="1336.5" cy="263.5" r="135" fill="none" stroke="#000" stroke-width="1"/>
<polygon points="1470.20,272.30 1472.80,280.10 1480.40,281.00 1475.20,284.90 1477.40,294.20 1470.20,288.70 1463.00,294.20 1465.20,284.90 1460.00,281.00 1467.60,280.10" fill="#f00"/>
<polygon points="1457.40,281.30 1460.00,289.10 1467.60,290.00 1462.40,293.90 1464.60,303.20 1457.40,297.70 1450.20,303.20 1452.40,293.90 1447.20,290.00 1454.80,289.10" fill="#f00"/>
<polygon points="1350.50,257.70 1353.10,265.50 1360.70,266.40 1355.50,270.30 1357.70,279.60 1350.50,274.10 1343.30,279.60 1345.50,270.30 1340.30,266.40 1347.90,265.50" fill="#f00"/>
<polygon points="1343.20,227.00 1345.80,234.80 1353.40,235.70 1348.20,239.60 1350.40,248.90 1343.20,243.40 1336.00,248.90 1338.20,239.60 1333.00,235.70 1340.60,234.80" fill="#f00"/>
<polygon points="1344.50,204.60 1347.10,212.40 1354.70,213.30 1349.50,217.20 1351.70,226.50 1344.50,221.00 1337.30,226.50 1339.50,217.20 1334.30,213.30 1341.90,212.40" fill="#f00"/>
<polygon points="1368.50,243.20 1371.10,251.00 1378.70,251.90 1373.50,255.80 1375.70,265.10 1368.50,259.60 1361.30,265.10 1363.50,255.80 1358.30,251.90 1365.90,251.00" fill="#f00"/>
<polygon points="1458.60,289.50 1461.20,297.30 1468.80,298.20 1463.60,302.10 1465.80,311.40 1458.60,305.90 1451.40,311.40 1453.60,302.10 1448.40,298.20 1456.00,297.30" fill="#f00"/>
<polygon points="1254.50,226.50 1257.10,234.30 1264.70,235.20 1259.50,239.10 1261.70,248.40 1254.50,242.90 1247.30,248.40 1249.50,239.10 1244.30,235.20 1251.90,234.30" fill="#f00"/>
<polygon points="1263.50,231.50 1266.10,239.30 1273.70,240.20 1268.50,244.10 1270.70,253.40 1263.50,247.90 1256.30,253.40 1258.50,244.10 1253.30,240.20 1260.90,239.30" fill="#f00"/>
<text x="1470.0" y="303.1" text-anchor="middle" font-family="Liberation Sans, sans-serif" font-size="13" stroke="#000" stroke-width="0.5">4226</text>
<text x="1457.2" y="312.1" text-anchor="middle" font-family="Liberation Sans, sans-serif" font-size="13" stroke="#000" stroke-width="0.5">4230</text>
<text x="1350.3" y="288.5" text-anchor="middle" font-family="Liberation Sans, sans-serif" font-size="13" stroke="#000" stroke-width="0.5">4232</text>
<text x="1343.0" y="257.8" text-anchor="middle" font-family="Liberation Sans, sans-serif" font-size="13" stroke="#000" stroke-width="0.5">4233</text>
<text x="1458.4" y="320.3" text-anchor="middle" font-family="Liberation Sans, sans-serif" font-size="13" stroke="#000" stroke-width="0.5">4238</text>
<text x="1254.3" y="257.3" text-anchor="middle" font-family="Liberation Sans, sans-serif" font-size="13" stroke="#000" stroke-width="0.5">4240</text>
<text x="1263.3" y="262.3" text-anchor="middle" font-family="Liberation Sans, sans-serif" font-size="13" stroke="#000" stroke-width="0.5">4241</text>
<rect x="1353" y="232" width="58" height="2" fill="#f0f"/>
<rect x="1353" y="287" width="58" height="2" fill="#f0f"/>
<rect x="1353" y="232" width="2" height="57" fill="#f0f"/>
<rect x="1409" y="232" width="2" height="57" fill="#f0f"/>
<rect x="1356" y="233" width="57" height="1" fill="#f0f"/>
<rect x="1356" y="288" width="57" height="1" fill="#f0f"/>
<rect x="1356" y="233" width="1" height="56" fill="#f0f"/>
<rect x="1412" y="233" width="1" height="56" fill="#f0f"/>
<polygon points="1350.50,257.70 1353.10,265.50 1360.70,266.40 1355.50,270.30 1357.70,279.60 1350.50,274.10 1343.30,279.60 1345.50,270.30 1340.30,266.40 1347.90,265.50" fill="#f00"/>
<text x="1368.3" y="274.0" text-anchor="middle" font-family="Liberation Sans, sans-serif" font-size="13" stroke="#000" stroke-width="0.5">4236</text>
<text x="1344.3" y="235.4" text-anchor="middle" font-family="Liberation Sans, sans-serif" font-size="13" stroke="#000" stroke-width="0.5">4235</text>
</g>
</svg></body></html>
